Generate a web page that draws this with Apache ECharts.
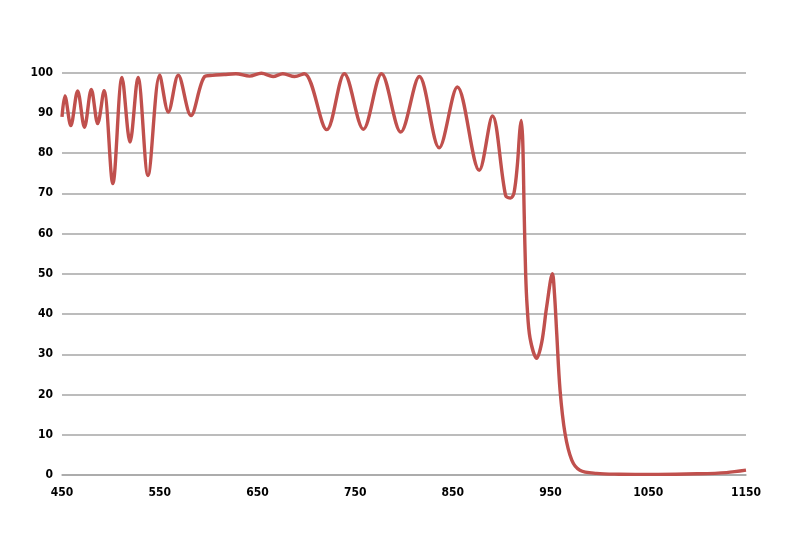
<!DOCTYPE html>
<html>
<head>
<meta charset="utf-8">
<script src="https://cdn.jsdelivr.net/npm/echarts@6/dist/echarts.min.js"></script>
<style>html,body{margin:0;padding:0;background:#fff}#c{width:800px;height:560px}</style>
</head>
<body>
<div id="c"></div>
<script>
const wavelengths = [450,453,459,466,473,480,486.5,493,502,511.4,519.6,527.8,538,550,558.8,569,582,596,604,616,628,642,654,666,676,688,698,721,739,758.4,777,796.7,815.7,836,854.6,877,890.5,904,909,912.5,916,918.5,920,921.5,923,924.5,926,929,935.8,941,946,951.9,954,956.3,959.7,964.8,971.7,980,997,1020,1060,1100,1130,1150];
const transmission = [89,94.2,86.8,95.4,86.4,95.8,87.3,95.5,72.4,98.8,82.7,98.8,74.4,99.3,90.2,99.3,89.3,99,99.3,99.5,99.7,99.1,99.8,99,99.7,99,99.7,85.8,99.7,85.9,99.7,85.2,99,81.3,96.4,75.7,89.2,69.4,68.8,70,77,85.5,88.1,83,65,50,42,34,29,33,41.8,50,45,35.2,21.1,10.3,3.7,1.2,0.4,0.2,0.15,0.3,0.6,1.2];
const xTicks = [450,550,650,750,850,950,1050,1150];
const yTicks = [0,10,20,30,40,50,60,70,80,90,100];

const data = wavelengths.map((w,i)=>[w, transmission[i]]);
const chart = echarts.init(document.getElementById('c'));
const font = {fontFamily:'"Liberation Sans Narrow","DejaVu Sans Condensed","Liberation Sans",sans-serif', fontWeight:'bold', fontSize:12, color:'#000'};
chart.setOption({
  animation:false,
  backgroundColor:'#fff',
  grid:{left:62,right:54,top:72.5,bottom:85},
  xAxis:{type:'value',min:xTicks[0],max:xTicks[xTicks.length-1],interval:100,
    axisLine:{show:true,lineStyle:{color:'#a6a6a6',width:1.5}},
    axisTick:{show:false},splitLine:{show:false},
    axisLabel:Object.assign({margin:12,showMinLabel:true,showMaxLabel:true,formatter:v=>String(v)},font)},
  yAxis:{type:'value',min:yTicks[0],max:yTicks[yTicks.length-1],interval:10,
    axisLine:{show:false},axisTick:{show:false},
    splitLine:{lineStyle:{color:'#a6a6a6',width:1.5}},
    axisLabel:Object.assign({margin:9,formatter:v=>String(v)},font)},
  series:[{type:'line',data:data,smooth:0.33,showSymbol:false,
    lineStyle:{color:'#c0504d',width:3.4},itemStyle:{color:'#c0504d'}}]
});
</script>
</body>
</html>
